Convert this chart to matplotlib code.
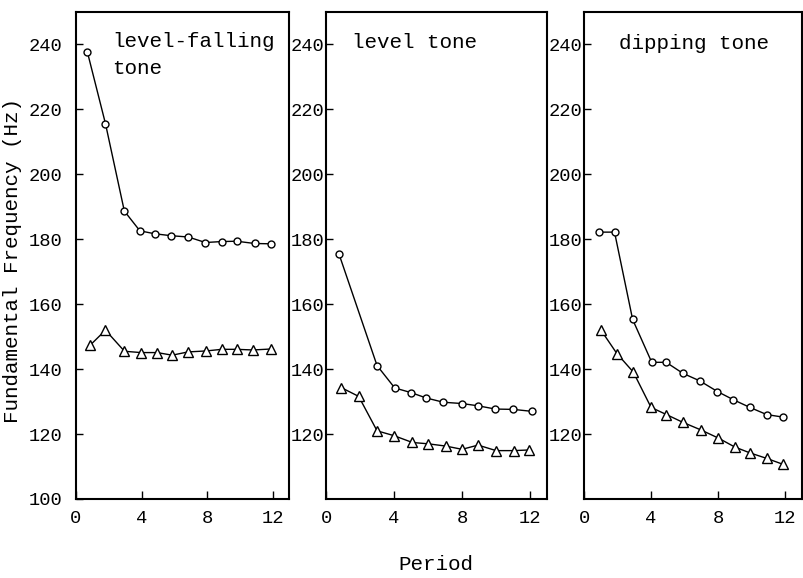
import matplotlib
matplotlib.use("Agg")
import matplotlib.pyplot as plt

plt.rcParams['font.family'] = ['Liberation Mono', 'DejaVu Sans Mono']

# values
titles = ["level-falling\ntone", "level tone", "dipping tone"]

# level-falling tone
lf_circ_x = [0.7, 1.8, 2.95, 3.9, 4.8, 5.8, 6.85, 7.9, 8.9, 9.8, 10.9, 11.9]
lf_circ_y = [237.6, 215.6, 188.7, 182.6, 181.7, 181.1, 180.7, 179.0, 179.3, 179.4, 178.7, 178.6]
lf_tri_x = [0.87, 1.8, 2.96, 3.97, 4.95, 5.87, 6.84, 7.94, 8.9, 9.8, 10.8, 11.9]
lf_tri_y = [147.4, 152.0, 145.5, 145.1, 145.1, 144.3, 145.3, 145.6, 146.1, 146.1, 145.9, 146.2]

# level tone
lv_circ_x = [0.76, 3.0, 4.04, 4.98, 5.9, 6.9, 8.0, 8.94, 9.96, 11.0, 12.1]
lv_circ_y = [175.5, 141.1, 134.2, 132.8, 131.1, 129.8, 129.4, 128.7, 127.7, 127.6, 127.0]
lv_tri_x = [0.9, 1.92, 3.0, 4.0, 5.08, 6.0, 7.04, 8.0, 8.94, 10.0, 11.06, 11.94]
lv_tri_y = [134.3, 131.6, 121.0, 119.5, 117.4, 117.0, 116.3, 115.3, 116.6, 114.9, 114.9, 115.1]

# dipping tone
dp_circ_x = [0.9, 1.82, 2.9, 4.04, 4.9, 5.9, 6.9, 7.96, 8.9, 9.9, 10.9, 11.9]
dp_circ_y = [182.2, 182.2, 155.3, 142.1, 142.1, 138.7, 136.4, 133.1, 130.6, 128.2, 126.0, 125.2]
dp_tri_x = [1.0, 1.96, 2.94, 4.0, 4.92, 5.9, 6.96, 8.0, 9.0, 9.9, 10.9, 11.86]
dp_tri_y = [152.1, 144.8, 139.1, 128.2, 126.0, 123.6, 121.3, 118.8, 116.0, 114.2, 112.5, 110.7]

x_ticks = [0, 4, 8, 12]
y_ticks_first = [100, 120, 140, 160, 180, 200, 220, 240]
y_ticks_rest = [120, 140, 160, 180, 200, 220, 240]

series = [
    (lf_circ_x, lf_circ_y, lf_tri_x, lf_tri_y),
    (lv_circ_x, lv_circ_y, lv_tri_x, lv_tri_y),
    (dp_circ_x, dp_circ_y, dp_tri_x, dp_tri_y),
]
title_pos = [(2.2, 243.8, 'top'), (1.5, 240.6, 'center'), (2.06, 240.3, 'center')]
rects = [
    [0.0945, 0.1367, 0.2650, 0.8425],
    [0.4055, 0.1367, 0.2750, 0.8425],
    [0.7264, 0.1367, 0.2710, 0.8425],
]

fig = plt.figure(figsize=(8.04, 5.78), dpi=100)

for i in range(3):
    ax = fig.add_axes(rects[i])
    cx, cy, tx, ty = series[i]
    ax.plot(cx, cy, color='black', lw=1.0, marker='o', markersize=5,
            markerfacecolor='white', markeredgecolor='black', markeredgewidth=1.0)
    ax.plot(tx, ty, color='black', lw=1.0, marker='^', markersize=6.5,
            markerfacecolor='white', markeredgecolor='black', markeredgewidth=1.0)
    ax.set_xlim(0, 13)
    ax.set_ylim(100, 250)
    ax.set_xticks(x_ticks)
    if i == 0:
        ax.set_yticks(y_ticks_first)
        ypad = 10
    else:
        ax.set_yticks(y_ticks_rest)
        ypad = 1
    ax.tick_params(axis='y', direction='in', length=5, width=1, pad=ypad, labelsize=13.5)
    ax.tick_params(axis='x', direction='in', length=6, width=1, pad=8, labelsize=13.5)
    for s in ax.spines.values():
        s.set_linewidth(1.5)
    px, py, va = title_pos[i]
    ax.text(px, py, titles[i], ha='left', va=va, fontsize=15, linespacing=1.5)

fig.text(0.016, 0.55, "Fundamental Frequency (Hz)", rotation=90,
         ha='center', va='center', fontsize=15)
fig.text(0.542, 0.0225, "Period", ha='center', va='center', fontsize=15)

fig.savefig("out.png", dpi=100)
